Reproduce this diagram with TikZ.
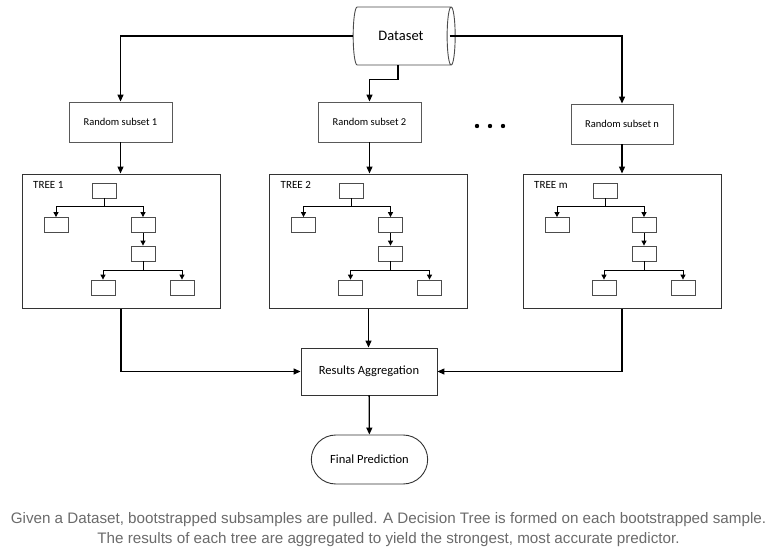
\documentclass[tikz,border=0pt]{standalone}
\usepackage{fontspec}
\usepackage{xcolor}
\setmainfont{Carlito}
\newfontfamily\capfont{Liberation Sans}
\usetikzlibrary{shapes.geometric}
\usetikzlibrary{shapes.misc}
\usetikzlibrary{arrows.meta}
\definecolor{capgray}{HTML}{6B6B6B}

\begin{document}
\begin{tikzpicture}[x=1pt, y=-1pt,
  box/.style={draw=black!65, line width=0.9pt, inner sep=0pt},
  leaf/.style={draw=black!70, line width=0.8pt, minimum width=24pt,
       minimum height=15pt, inner sep=0pt},
  link/.style={line width=1.3pt, -{Triangle[length=7pt,width=6pt]}},
  twig/.style={line width=1pt, -{Triangle[length=5pt,width=5pt]}}]
\fill [white] (0,0) rectangle (777,557);

\node [cylinder, draw=black!70, line width=0.9pt, aspect=0.5,
       minimum width=58pt, minimum height=102pt,
       font=\fontsize{14.5}{16}\selectfont] (dataset) at (401,36) {Dataset};

\node [box, minimum width=103pt, minimum height=40pt,
       font=\fontsize{10.5}{12}\selectfont] (sub1) at (120.5,122) {Random subset 1};
\node [box, minimum width=103pt, minimum height=40pt,
       font=\fontsize{10.5}{12}\selectfont] (sub2) at (369.5,122) {Random subset 2};
\node [box, minimum width=102pt, minimum height=40pt,
       font=\fontsize{10.5}{12}\selectfont] (subn) at (622,124) {Random subset n};
\foreach \d in {477,490,503}
  \fill (\d,126) circle (2.2pt);

\draw [link] (dataset.west) -| (sub1.north);
\draw [link] ([xshift=-3pt]dataset.south) -- ++(0,14) -| (sub2.north);
\draw [link] ([xshift=-6pt]dataset.east) -| (subn.north);

\foreach \t/\cx/\lab in {1/121/TREE 1, 2/368.5/TREE 2, m/622/TREE m} {
  \node [box, draw=black!80, line width=1pt, minimum width=198pt, minimum height=134pt]
         (tree\t) at (\cx,241) {};
  \node [anchor=west, inner sep=0pt, font=\fontsize{11}{12}\selectfont]
         (lab\t) at (\cx-88,185) {\lab};
  \node [leaf] (r\t) at (\cx-17,190.5) {};
  \node [leaf] (a\t) at (\cx-65,225) {};
  \node [leaf] (b\t) at (\cx+22,225) {};
  \node [leaf] (c\t) at (\cx+22,253.5) {};
  \node [leaf] (d\t) at (\cx-18,287.5) {};
  \node [leaf] (e\t) at (\cx+61,287.5) {};
  \draw [line width=1pt] (r\t.south) -- ++(0,8) coordinate (s\t);
  \draw [twig] (s\t) -| (a\t.north);
  \draw [twig] (s\t) -| (b\t.north);
  \draw [twig] (b\t) -- (c\t);
  \draw [line width=1pt] (c\t.south) -- ++(0,9) coordinate (u\t);
  \draw [twig] (u\t) -| (d\t.north);
  \draw [twig] (u\t) -| (e\t.north);
}

\draw [link] (sub1.south) -- (sub1.south |- tree1.north);
\draw [link] (sub2.south) -- (sub2.south |- tree2.north);
\draw [link] (subn.south) -- (subn.south |- treem.north);

\node [box, draw=black!80, minimum width=136pt, minimum height=47pt,
       font=\fontsize{12.5}{14}\selectfont] (agg) at (369,371.5) {Results Aggregation};
\node [rounded rectangle, draw=black!80, line width=0.9pt, minimum width=123pt,
       minimum height=49pt, font=\fontsize{12.5}{14}\selectfont]
       (final) at (369.5,459.5) {Final Prediction};

\draw [link] (tree1.south) |- (agg.west);
\draw [link] (treem.south) |- (agg.east);
\draw [link] (tree2.south) -- (tree2.south |- agg.north);
\draw [link] (agg) -- (final);

\node [align=center, text=capgray, font=\capfont\fontsize{15.2}{20}\selectfont]
       (caption) at (388.5,530) {Given a Dataset, bootstrapped subsamples are pulled. A Decision Tree is formed on each bootstrapped sample.\\
       The results of each tree are aggregated to yield the strongest, most accurate predictor.};
\end{tikzpicture}
\end{document}
